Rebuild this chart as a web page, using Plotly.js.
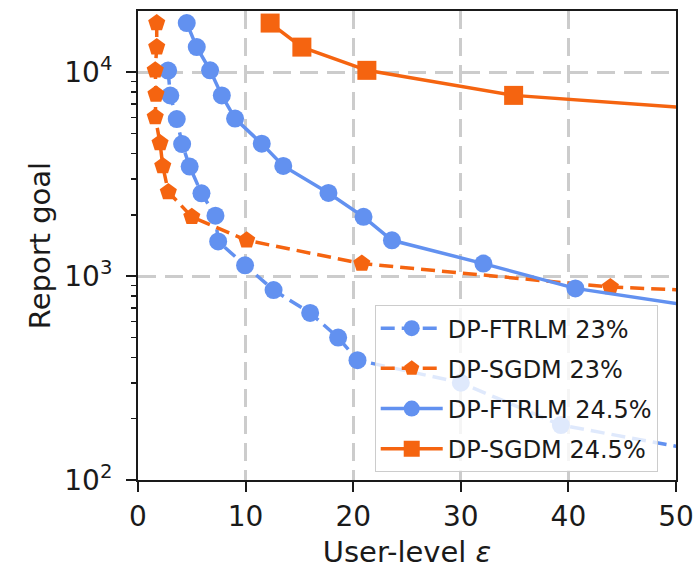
<!DOCTYPE html>
<html>
<head>
<meta charset="utf-8">
<script src="https://cdn.plot.ly/plotly-3.0.1.min.js"></script>
<style>html,body{margin:0;padding:0;background:#fff;}#chart{width:694px;height:574px;}</style>
</head>
<body>
<div id="chart"></div>
<script>
// Data (x = user-level epsilon, y = report goal)
const seriesNames = ["DP-FTRLM 23%", "DP-SGDM 23%", "DP-FTRLM 24.5%", "DP-SGDM 24.5%"];

const epsFtrlm23  = [2.8, 3.0, 3.6, 4.1, 4.8, 5.9, 7.2, 7.45, 9.95, 12.6, 16.0, 18.6, 20.4, 30.0, 39.3, 52];
const goalFtrlm23 = [10200, 7700, 5900, 4450, 3450, 2550, 1980, 1480, 1130, 855, 660, 500, 387, 300, 186, 140];

const epsSgdm23  = [1.74, 1.74, 1.6, 1.67, 1.6, 2.05, 2.3, 2.82, 5.0, 10.1, 20.8, 43.9, 65];
const goalSgdm23 = [17450, 13300, 10230, 7800, 6040, 4500, 3475, 2590, 1955, 1500, 1153, 884, 800];

const epsFtrlm245  = [4.53, 5.46, 6.7, 7.79, 9.02, 11.5, 13.5, 17.7, 20.96, 23.6, 32.1, 40.65, 55];
const goalFtrlm245 = [17450, 13300, 10230, 7710, 5930, 4470, 3475, 2560, 1955, 1500, 1153, 871, 670];

const epsSgdm245  = [12.28, 15.23, 21.27, 34.91, 65];
const goalSgdm245 = [17450, 13300, 10230, 7710, 5930];

const xTickVals = [0, 10, 20, 30, 40, 50];
const yMajorVals = [100, 1000, 10000];
const yMajorText = ["10<sup>2</sup>", "10<sup>3</sup>", "10<sup>4</sup>"];
const yMinorVals = [200, 300, 400, 500, 600, 700, 800, 900,
                    2000, 3000, 4000, 5000, 6000, 7000, 8000, 9000];

const BLUE = "#6291f0";
const ORANGE = "#f56410";
const INK = "#1a1a1a";
const FONT = "DejaVu Sans, sans-serif";
const Y_RANGE = [2, Math.log10(20000)];

function trace(x, y, name, color, symbol, size, dash, group, yaxis) {
  return {
    x: x, y: y, name: name, type: "scatter", mode: "lines+markers",
    legendgroup: group, yaxis: yaxis,
    line: {color: color, width: 3.5, dash: dash},
    marker: {color: color, symbol: symbol, size: size, line: {width: 0}}
  };
}

// the last series sits on an overlaying log axis with an identical range;
// that axis carries the minor ticks of the y scale
const data = [
  trace(epsFtrlm23, goalFtrlm23, seriesNames[0], BLUE, "circle", 18, "14px,7px", "a", "y"),
  trace(epsSgdm23, goalSgdm23, seriesNames[1], ORANGE, "pentagon", 18, "14px,7px", "b", "y"),
  trace(epsFtrlm245, goalFtrlm245, seriesNames[2], BLUE, "circle", 18, "solid", "c", "y"),
  trace(epsSgdm245, goalSgdm245, seriesNames[3], ORANGE, "square", 19, "solid", "d", "y2")
];

const layout = {
  width: 694, height: 574,
  margin: {l: 138, r: 18, t: 11, b: 94},
  paper_bgcolor: "#ffffff", plot_bgcolor: "#ffffff",
  font: {family: FONT, color: INK, size: 24},
  showlegend: true,
  xaxis: {
    range: [0, 50], tickvals: xTickVals, ticktext: xTickVals.map(String),
    showline: true, linecolor: INK, linewidth: 2, mirror: true,
    ticks: "outside", ticklen: 10, tickwidth: 2, tickcolor: INK,
    showgrid: true, gridcolor: "#cccccc", gridwidth: 3, griddash: "18px,9px",
    zeroline: false,
    tickfont: {family: FONT, size: 28, color: INK},
    title: {text: "User-level <i>ε</i>", font: {family: FONT, size: 29, color: INK}, standoff: 10}
  },
  yaxis: {
    type: "log", range: Y_RANGE,
    tickmode: "array", tickvals: yMajorVals, ticktext: yMajorText,
    showline: true, linecolor: INK, linewidth: 2, mirror: true,
    ticks: "outside", ticklen: 10, tickwidth: 2, tickcolor: INK,
    ticklabelstandoff: 8,
    showgrid: true, gridcolor: "#cccccc", gridwidth: 3, griddash: "18px,9px",
    zeroline: false,
    tickfont: {family: FONT, size: 28, color: INK},
    title: {text: "Report goal", font: {family: FONT, size: 29, color: INK}, standoff: 5}
  },
  yaxis2: {
    type: "log", range: Y_RANGE, overlaying: "y", side: "left", anchor: "x",
    tickmode: "array", tickvals: yMinorVals, showticklabels: false,
    ticks: "outside", ticklen: 6, tickwidth: 1.5, tickcolor: INK,
    showgrid: false, showline: false, zeroline: false
  },
  legend: {
    x: 0.44, y: 0.373, xanchor: "left", yanchor: "top",
    bgcolor: "rgba(255,255,255,0.8)", bordercolor: "#cccccc", borderwidth: 1,
    font: {family: FONT, size: 24, color: INK},
    traceorder: "grouped", tracegroupgap: 6, itemwidth: 62
  }
};

Plotly.newPlot("chart", data, layout, {displayModeBar: false, staticPlot: true});
</script>
</body>
</html>
